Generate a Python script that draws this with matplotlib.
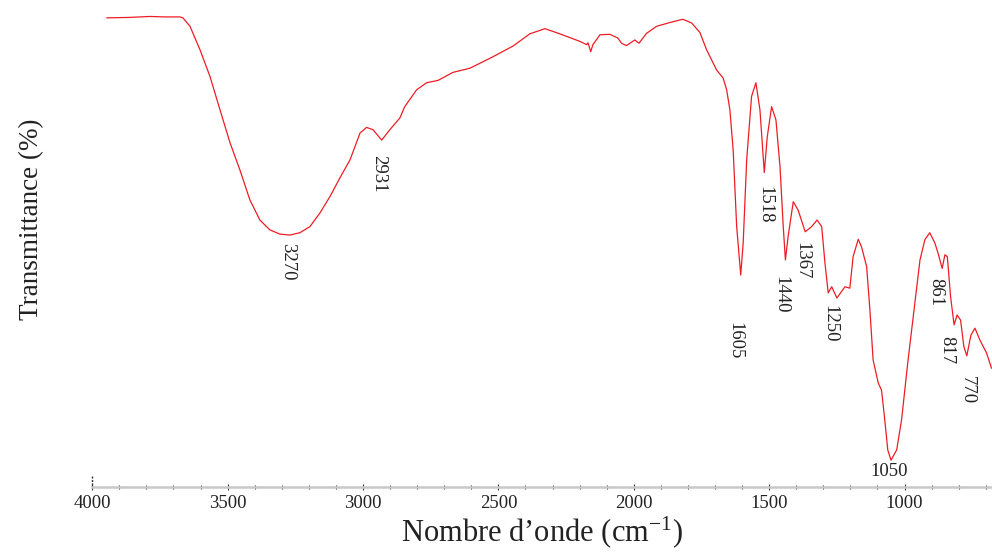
import numpy as np
import matplotlib
matplotlib.use('Agg')
import matplotlib.pyplot as plt
from matplotlib.ticker import MultipleLocator

plt.rcParams['font.family'] = ['Liberation Serif', 'DejaVu Serif']
plt.rcParams['mathtext.fontset'] = 'custom'
plt.rcParams['mathtext.rm'] = 'Liberation Serif'
plt.rcParams['mathtext.default'] = 'regular'

# IR spectrum (wavenumber in cm-1, transmittance in %)
wavenumber = [3946, 3861, 3787, 3732, 3676, 3665, 3639, 3602, 3565, 3528,
              3491, 3455, 3418, 3381, 3344, 3307, 3270, 3233, 3196, 3159,
              3122, 3085, 3048, 3011, 2987, 2963, 2931, 2901, 2864, 2846,
              2802, 2765, 2723, 2668, 2605, 2531, 2446, 2384, 2328, 2273,
              2199, 2174, 2169, 2159, 2151, 2125, 2088, 2059, 2045, 2027,
              1996, 1981, 1953, 1916, 1867, 1819, 1786, 1756, 1731, 1694,
              1670, 1657, 1645, 1633, 1620, 1605, 1596, 1583, 1565, 1549,
              1534, 1518, 1507, 1491, 1475, 1460, 1448, 1440, 1430, 1411,
              1393, 1367, 1343, 1323, 1306, 1294, 1282, 1269, 1250, 1220,
              1202, 1190, 1171, 1159, 1140, 1128, 1116, 1097, 1085, 1073,
              1062, 1050, 1029, 1011, 987, 962, 943, 925, 907, 888,
              876, 861, 851, 842, 830, 817, 806, 793, 781, 770,
              755, 740, 722, 697, 679]
transmittance = [99.8, 99.9, 100.1, 100.0, 100.0, 99.8, 98.0, 93.0, 87.3, 80.2,
                 73.2, 67.5, 61.1, 56.8, 54.7, 53.8, 53.6, 54.1, 55.4, 58.3,
                 61.8, 65.8, 69.6, 75.3, 76.5, 76.0, 73.8, 76.0, 78.5, 80.9,
                 84.5, 86.0, 86.5, 88.2, 89.1, 91.2, 93.8, 96.4, 97.5, 96.4,
                 94.8, 94.1, 94.5, 92.6, 94.1, 96.2, 96.3, 95.5, 94.4, 93.9,
                 95.1, 94.4, 96.5, 98.0, 98.8, 99.5, 98.7, 96.7, 93.0, 88.7,
                 87.0, 84.5, 80.2, 71.7, 55.4, 45.1, 51.9, 69.6, 83.1, 86.0,
                 80.2, 66.9, 74.5, 80.9, 78.1, 68.2, 55.4, 48.3, 53.3, 60.7,
                 58.9, 54.3, 55.4, 56.8, 55.4, 47.7, 41.3, 42.6, 40.2, 42.6,
                 42.3, 49.0, 52.7, 51.1, 46.9, 37.7, 27.0, 22.1, 20.6, 14.3,
                 7.9, 5.7, 7.9, 14.3, 27.0, 39.1, 48.3, 52.6, 54.1, 51.9,
                 49.7, 46.5, 49.4, 49.0, 40.5, 34.5, 36.6, 35.5, 29.9, 27.9,
                 32.3, 33.8, 31.3, 28.5, 25.3]

# labelled bands and label offsets (pixels) from the band minimum
peaks = [3270, 2931, 1605, 1518, 1440, 1367, 1250, 1050, 861, 817, 770]
peak_offsets = [(-2, -27), (-3, -34), (-6, -66), (1, -32), (-5, -35), (-3, -29),
                (-7, -26), (-2, -11), (-6, -24), (-7, -25), (0, -34)]

fig = plt.figure(figsize=(9.92, 5.53), dpi=100)
ax = fig.add_axes([0.093, 0.1193, 0.907, 0.8807])

ax.plot(wavenumber, transmittance, color='#ee1c25', lw=0.9)
ax.set_xlim(4000, 677)
ax.set_ylim(0, 103.6)

wn_sorted = np.array(wavenumber[::-1])
t_sorted = np.array(transmittance[::-1])
for p, (dx, dy) in zip(peaks, peak_offsets):
    t = np.interp(p, wn_sorted, t_sorted)
    rot = 0 if p == 1050 else 270
    ax.annotate(str(p), xy=(p, t), xytext=(dx, dy), textcoords='offset pixels',
                rotation=rot, ha='center', va='center', fontsize=13.5, color='#222222')

for s in ['top', 'right', 'left']:
    ax.spines[s].set_visible(False)
ax.spines['bottom'].set_color('#c8c8c8')
ax.spines['bottom'].set_linewidth(1.8)

ax.xaxis.set_major_locator(MultipleLocator(500))
ax.xaxis.set_minor_locator(MultipleLocator(100))
ax.tick_params(axis='x', which='major', direction='inout', length=4, width=0.8,
               color='#333333', labelsize=13.5, pad=4, labelcolor='#222222')
ax.tick_params(axis='x', which='minor', direction='inout', length=2.5, width=0.8,
               color='#333333')
ax.set_yticks([])

# small stub of the y axis
ax.plot([0, 0], [0.005, 0.025], transform=ax.transAxes, color='#333333',
        lw=1, ls=(0, (1.5, 1)), clip_on=False)

ax.set_xlabel('Nombre d\u2019onde (cm$^{-1}$)', fontsize=22, color='#222222', labelpad=1.5)
ax.set_ylabel('Transmittance (%)', fontsize=19.5, color='#222222')
ax.yaxis.set_label_coords(-0.053, 0.55)

fig.savefig('out.png', dpi=100)
